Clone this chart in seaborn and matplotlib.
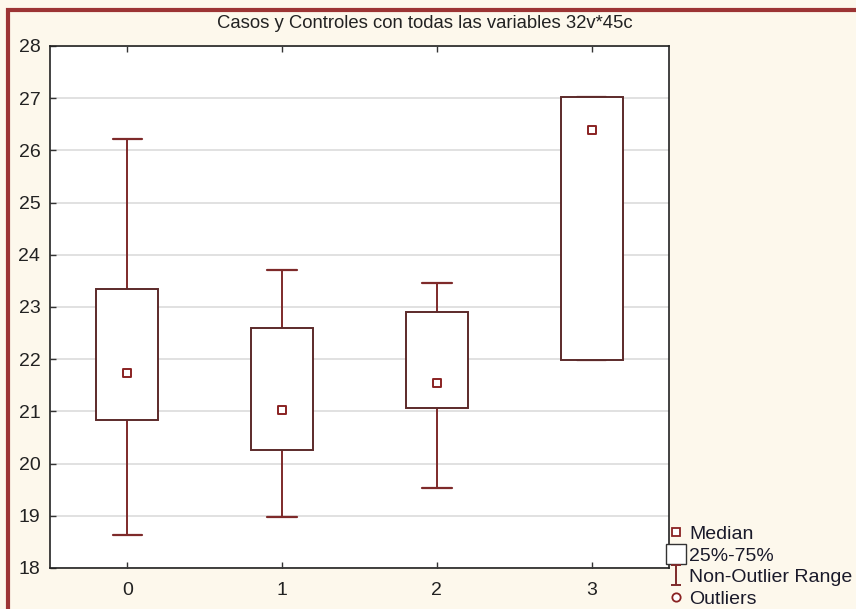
import numpy as np
import pandas as pd
import matplotlib
matplotlib.use("Agg")
import matplotlib.pyplot as plt
from matplotlib.lines import Line2D
from matplotlib.path import Path
from matplotlib.patches import Rectangle
import seaborn as sns

# Box summary per group: lower whisker, 25%, median, 75%, upper whisker
groups = ["0", "1", "2", "3"]
low = [18.63, 18.97, 19.54, 21.98]
q1 = [20.84, 20.26, 21.07, 21.98]
median = [21.73, 21.03, 21.54, 26.40]
q3 = [23.34, 22.60, 22.90, 27.03]
high = [26.22, 23.71, 23.46, 27.03]

title = "Casos y Controles con todas las variables 32v*45c"
yticks = [18, 19, 20, 21, 22, 23, 24, 25, 26, 27, 28]

rows = []
for g, a, b, c, d, e in zip(groups, low, q1, median, q3, high):
    for v in (a, b, c, d, e):
        rows.append({"grupo": g, "valor": v})
df = pd.DataFrame(rows)
med_df = pd.DataFrame({"grupo": groups, "valor": median})

sns.set_theme(style="white")
plt.rcParams["font.family"] = ["Liberation Sans", "DejaVu Sans"]

bg = "#fdf8ec"
box_col = "#5c2a2a"
whisk_col = "#7e2a2a"
med_col = "#8a2222"

fig = plt.figure(figsize=(8.56, 6.09), dpi=100, facecolor=bg)
ax = fig.add_axes([50 / 856, 1 - 568 / 609, (669 - 50) / 856, (568 - 46) / 609])
ax.set_facecolor("white")

sns.boxplot(
    data=df, x="grupo", y="valor", order=groups, whis=np.inf, width=0.4,
    color="white", linewidth=1.4, linecolor=box_col, fliersize=0,
    boxprops=dict(facecolor="white", edgecolor=box_col, zorder=3),
    whiskerprops=dict(color=whisk_col, linewidth=1.4, zorder=2),
    capprops=dict(color=whisk_col, linewidth=1.6, zorder=2),
    medianprops=dict(linewidth=0),
    capwidths=0.19, ax=ax,
)

sns.scatterplot(
    data=med_df, x="grupo", y="valor", marker="s", s=36,
    color="white", edgecolor=med_col, linewidth=1.4, zorder=5, ax=ax,
)

ax.set_ylim(18, 28)
ax.set_xlim(-0.5, 3.5)
ax.set_yticks(yticks)
ax.set_yticklabels([str(t) for t in yticks])
ax.set_xlabel("")
ax.set_ylabel("")
ax.grid(axis="y", color="#dcdcdc", linewidth=1.2, zorder=0)
ax.set_axisbelow(True)
ax.tick_params(axis="both", direction="in", length=4, width=1, colors="#333333",
               labelsize=14, labelcolor="#222222", pad=7)
ax.tick_params(axis="x", top=True, bottom=True, pad=10)
ax.tick_params(axis="y", left=True, right=False)
for sp in ax.spines.values():
    sp.set_visible(True)
    sp.set_color("#222222")
    sp.set_linewidth(1.2)

fig.text(425 / 856, 1 - 23 / 609, title, ha="center", va="center",
         fontsize=13.3, color="#222222")

# legend glyph for the whisker range
ibeam = Path(
    [(-0.5, 1), (0.5, 1), (0, 1), (0, -1), (-0.5, -1), (0.5, -1)],
    [Path.MOVETO, Path.LINETO, Path.MOVETO, Path.LINETO, Path.MOVETO, Path.LINETO],
)
handles = [
    Line2D([], [], linestyle="none", marker="s", markersize=6,
           markerfacecolor="white", markeredgecolor=med_col, markeredgewidth=1.3),
    Line2D([], [], linestyle="none", marker="s", markersize=14,
           markerfacecolor="white", markeredgecolor="#333333", markeredgewidth=1.0),
    Line2D([], [], linestyle="none", marker=ibeam, markersize=15,
           markerfacecolor="none", markeredgecolor=whisk_col, markeredgewidth=1.4),
    Line2D([], [], linestyle="none", marker="o", markersize=6,
           markerfacecolor="white", markeredgecolor=med_col, markeredgewidth=1.3),
]
labels = ["Median", "25%-75%", "Non-Outlier Range", "Outliers"]
fig.legend(handles, labels, loc="lower left", bbox_to_anchor=(658 / 856, -0.014),
           frameon=False, fontsize=14, handlelength=0.9, handletextpad=0.2,
           labelspacing=0.2, borderaxespad=0.1, labelcolor="#1a1a2a")

# outer frame
fig.patches.append(Rectangle((8 / 856, -0.05), 1.1, 1 - 10 / 609 + 0.05,
                             transform=fig.transFigure, fill=False,
                             edgecolor="#9c3434", linewidth=3, zorder=0))

fig.savefig("out.png", dpi=100, facecolor=bg)
